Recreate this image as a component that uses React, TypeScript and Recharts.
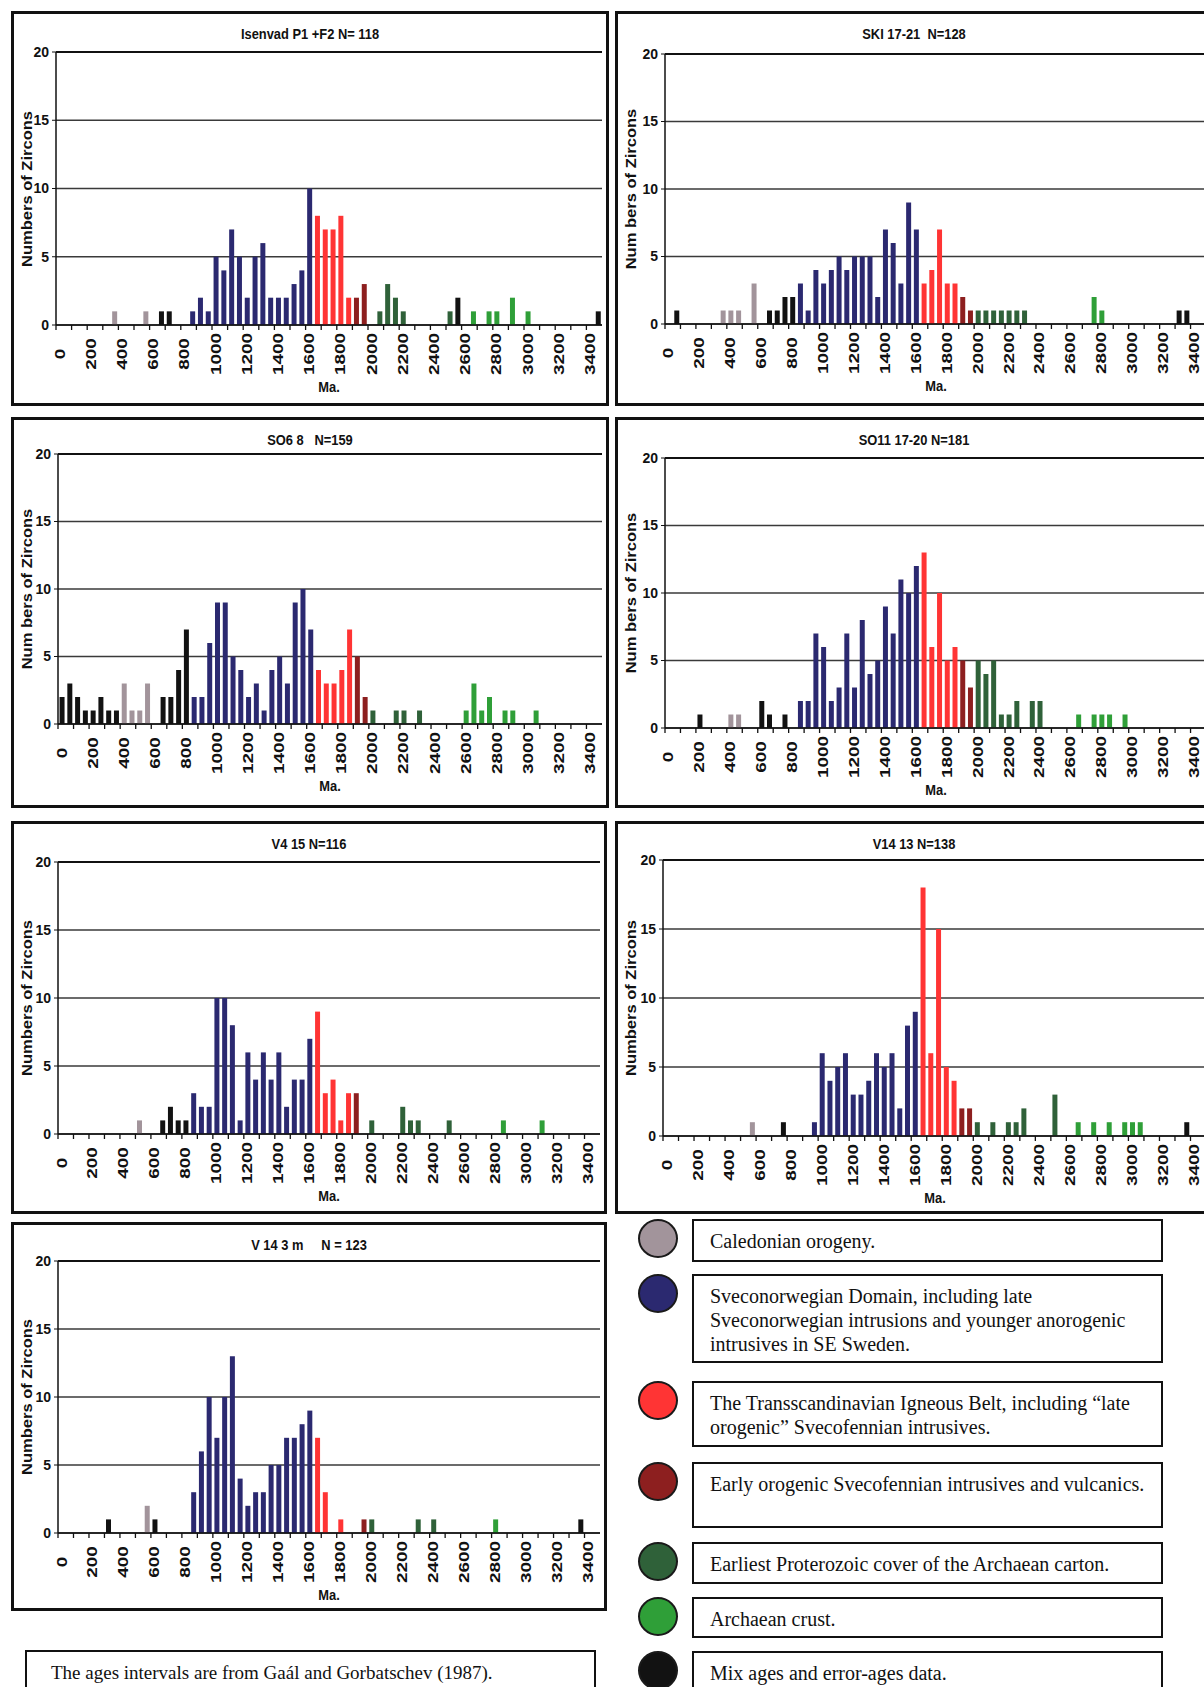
import React from "react";
import { Bar, BarChart, CartesianGrid, Cell, ReferenceLine, XAxis, YAxis } from "recharts";

// age bins: 50 Ma wide, 0 .. 3450 Ma
const BIN_STEP = 50;
const BIN_COUNT = 70;
const AGE_LABELS = ["0", "200", "400", "600", "800", "1000", "1200", "1400", "1600", "1800", "2000", "2200", "2400", "2600", "2800", "3000", "3200", "3400"];
const COUNT_TICKS = [0, 5, 10, 15, 20];

// group codes: C Caledonian, S Sveconorwegian, T TIB, E early orogenic Svecofennian,
// P earliest Proterozoic cover, A Archaean crust, M mixed / error ages
type Group = "C" | "S" | "T" | "E" | "P" | "A" | "M";
type BinCount = [number, number, Group];

const ISENVAD: BinCount[] = [
  [350, 1, "C"], [550, 1, "C"], [650, 1, "M"], [700, 1, "M"],
  [850, 1, "S"], [900, 2, "S"], [950, 1, "S"], [1000, 5, "S"], [1050, 4, "S"], [1100, 7, "S"], [1150, 5, "S"],
  [1200, 2, "S"], [1250, 5, "S"], [1300, 6, "S"], [1350, 2, "S"], [1400, 2, "S"], [1450, 2, "S"], [1500, 3, "S"],
  [1550, 4, "S"], [1600, 10, "S"],
  [1650, 8, "T"], [1700, 7, "T"], [1750, 7, "T"], [1800, 8, "T"], [1850, 2, "T"],
  [1900, 2, "E"], [1950, 3, "E"],
  [2050, 1, "P"], [2100, 3, "P"], [2150, 2, "P"], [2200, 1, "P"], [2500, 1, "P"], [2550, 2, "M"],
  [2650, 1, "A"], [2750, 1, "A"], [2800, 1, "A"], [2900, 2, "A"], [3000, 1, "A"], [3450, 1, "M"],
];

const SKI: BinCount[] = [
  [50, 1, "M"], [350, 1, "C"], [400, 1, "C"], [450, 1, "C"], [550, 3, "C"],
  [650, 1, "M"], [700, 1, "M"], [750, 2, "M"], [800, 2, "M"],
  [850, 3, "S"], [900, 1, "S"], [950, 4, "S"], [1000, 3, "S"], [1050, 4, "S"], [1100, 5, "S"], [1150, 4, "S"],
  [1200, 5, "S"], [1250, 5, "S"], [1300, 5, "S"], [1350, 2, "S"], [1400, 7, "S"], [1450, 6, "S"], [1500, 3, "S"],
  [1550, 9, "S"], [1600, 7, "S"],
  [1650, 3, "T"], [1700, 4, "T"], [1750, 7, "T"], [1800, 3, "T"], [1850, 3, "T"],
  [1900, 2, "E"], [1950, 1, "E"],
  [2000, 1, "P"], [2050, 1, "P"], [2100, 1, "P"], [2150, 1, "P"], [2200, 1, "P"], [2250, 1, "P"], [2300, 1, "P"],
  [2750, 2, "A"], [2800, 1, "A"], [3300, 1, "M"], [3350, 1, "M"],
];

const SO68: BinCount[] = [
  [0, 2, "M"], [50, 3, "M"], [100, 2, "M"], [150, 1, "M"], [200, 1, "M"], [250, 2, "M"], [300, 1, "M"], [350, 1, "M"],
  [400, 3, "C"], [450, 1, "C"], [500, 1, "C"], [550, 3, "C"],
  [650, 2, "M"], [700, 2, "M"], [750, 4, "M"], [800, 7, "M"],
  [850, 2, "S"], [900, 2, "S"], [950, 6, "S"], [1000, 9, "S"], [1050, 9, "S"], [1100, 5, "S"], [1150, 4, "S"],
  [1200, 2, "S"], [1250, 3, "S"], [1300, 1, "S"], [1350, 4, "S"], [1400, 5, "S"], [1450, 3, "S"], [1500, 9, "S"],
  [1550, 10, "S"], [1600, 7, "S"],
  [1650, 4, "T"], [1700, 3, "T"], [1750, 3, "T"], [1800, 4, "T"], [1850, 7, "T"],
  [1900, 5, "E"], [1950, 2, "E"],
  [2000, 1, "P"], [2150, 1, "P"], [2200, 1, "P"], [2300, 1, "P"],
  [2600, 1, "A"], [2650, 3, "A"], [2700, 1, "A"], [2750, 2, "A"], [2850, 1, "A"], [2900, 1, "A"], [3050, 1, "A"],
];

const SO11: BinCount[] = [
  [200, 1, "M"], [400, 1, "C"], [450, 1, "C"], [600, 2, "M"], [650, 1, "M"], [750, 1, "M"],
  [850, 2, "S"], [900, 2, "S"], [950, 7, "S"], [1000, 6, "S"], [1050, 2, "S"], [1100, 3, "S"], [1150, 7, "S"],
  [1200, 3, "S"], [1250, 8, "S"], [1300, 4, "S"], [1350, 5, "S"], [1400, 9, "S"], [1450, 7, "S"], [1500, 11, "S"],
  [1550, 10, "S"], [1600, 12, "S"],
  [1650, 13, "T"], [1700, 6, "T"], [1750, 10, "T"], [1800, 5, "T"], [1850, 6, "T"],
  [1900, 5, "E"], [1950, 3, "E"],
  [2000, 5, "P"], [2050, 4, "P"], [2100, 5, "P"], [2150, 1, "P"], [2200, 1, "P"], [2250, 2, "P"], [2350, 2, "P"], [2400, 2, "P"],
  [2650, 1, "A"], [2750, 1, "A"], [2800, 1, "A"], [2850, 1, "A"], [2950, 1, "A"],
];

const V415: BinCount[] = [
  [500, 1, "C"], [650, 1, "M"], [700, 2, "M"], [750, 1, "M"], [800, 1, "M"],
  [850, 3, "S"], [900, 2, "S"], [950, 2, "S"], [1000, 10, "S"], [1050, 10, "S"], [1100, 8, "S"], [1150, 1, "S"],
  [1200, 6, "S"], [1250, 4, "S"], [1300, 6, "S"], [1350, 4, "S"], [1400, 6, "S"], [1450, 2, "S"], [1500, 4, "S"],
  [1550, 4, "S"], [1600, 7, "S"],
  [1650, 9, "T"], [1700, 3, "T"], [1750, 4, "T"], [1800, 1, "T"], [1850, 3, "T"],
  [1900, 3, "E"],
  [2000, 1, "P"], [2200, 2, "P"], [2250, 1, "P"], [2300, 1, "P"], [2500, 1, "P"],
  [2850, 1, "A"], [3100, 1, "A"],
];

const V1413: BinCount[] = [
  [550, 1, "C"], [750, 1, "M"],
  [950, 1, "S"], [1000, 6, "S"], [1050, 4, "S"], [1100, 5, "S"], [1150, 6, "S"], [1200, 3, "S"], [1250, 3, "S"],
  [1300, 4, "S"], [1350, 6, "S"], [1400, 5, "S"], [1450, 6, "S"], [1500, 2, "S"], [1550, 8, "S"], [1600, 9, "S"],
  [1650, 18, "T"], [1700, 6, "T"], [1750, 15, "T"], [1800, 5, "T"], [1850, 4, "T"],
  [1900, 2, "E"], [1950, 2, "E"],
  [2000, 1, "P"], [2100, 1, "P"], [2200, 1, "P"], [2250, 1, "P"], [2300, 2, "P"], [2500, 3, "P"],
  [2650, 1, "A"], [2750, 1, "A"], [2850, 1, "A"], [2950, 1, "A"], [3000, 1, "A"], [3050, 1, "A"],
  [3350, 1, "M"],
];

const V143M: BinCount[] = [
  [300, 1, "M"], [550, 2, "C"], [600, 1, "M"],
  [850, 3, "S"], [900, 6, "S"], [950, 10, "S"], [1000, 7, "S"], [1050, 10, "S"], [1100, 13, "S"], [1150, 4, "S"],
  [1200, 2, "S"], [1250, 3, "S"], [1300, 3, "S"], [1350, 5, "S"], [1400, 5, "S"], [1450, 7, "S"], [1500, 7, "S"],
  [1550, 8, "S"], [1600, 9, "S"],
  [1650, 7, "T"], [1700, 3, "T"], [1800, 1, "T"],
  [1950, 1, "E"], [2000, 1, "P"], [2300, 1, "P"], [2400, 1, "P"],
  [2800, 1, "A"], [3350, 1, "M"],
];

const GROUP_COLORS: Record<Group, string> = {
  C: "#a2949b",
  S: "#2b2970",
  T: "#ff3434",
  E: "#8d1f1f",
  P: "#2f6139",
  A: "#2f9f38",
  M: "#121212",
};

const LEGEND: { group: Group; lines: string[] }[] = [
  { group: "C", lines: ["Caledonian orogeny."] },
  {
    group: "S",
    lines: [
      "Sveconorwegian Domain, including late",
      "Sveconorwegian intrusions and younger anorogenic",
      "intrusives in SE Sweden.",
    ],
  },
  {
    group: "T",
    lines: ["The Transscandinavian Igneous Belt, including \u201clate", "orogenic\u201d Svecofennian intrusives."],
  },
  { group: "E", lines: ["Early orogenic Svecofennian intrusives and vulcanics."] },
  { group: "P", lines: ["Earliest Proterozoic cover of the Archaean carton."] },
  { group: "A", lines: ["Archaean crust."] },
  { group: "M", lines: ["Mix ages and error-ages data."] },
];

// box: left, top, width, height; plot: left, top (20 line), bottom (0 line)
const PANELS = [
  { title: "Isenvad P1 +F2 N= 118", yLabel: "Numbers of Zircons", bars: ISENVAD, box: [11, 11, 598, 395], plot: [56, 52, 325] },
  { title: "SKI 17-21  N=128", yLabel: "Num bers of Zircons", bars: SKI, box: [615, 11, 598, 395], plot: [665, 54, 324] },
  { title: "SO6 8   N=159", yLabel: "Num bers of Zircons", bars: SO68, box: [11, 417, 598, 391], plot: [58, 454, 724] },
  { title: "SO11 17-20 N=181", yLabel: "Num bers of Zircons", bars: SO11, box: [615, 417, 598, 391], plot: [665, 458, 728] },
  { title: "V4 15 N=116", yLabel: "Numbers of Zircons", bars: V415, box: [11, 821, 596, 393], plot: [58, 862, 1134] },
  { title: "V14 13 N=138", yLabel: "Numbers of Zircons", bars: V1413, box: [615, 821, 598, 393], plot: [663, 860, 1136] },
  { title: "V 14 3 m     N = 123", yLabel: "Numbers of Zircons", bars: V143M, box: [11, 1222, 596, 389], plot: [58, 1261, 1533] },
];

const LEGEND_BOXES = [
  [1219, 43], [1274, 89], [1381, 66], [1462, 66], [1542, 42], [1597, 41], [1651, 52],
];

const SANS = "Arial, 'Liberation Sans', sans-serif";
const SERIF = "'Times New Roman', 'Liberation Serif', serif";

function buildRows(bars: BinCount[]) {
  const rows: { age: number; count: number; group: Group | null }[] = [];
  for (let i = 0; i < BIN_COUNT; i++) rows.push({ age: i * BIN_STEP, count: 0, group: null });
  bars.forEach(([age, count, group]) => {
    const row = rows[age / BIN_STEP];
    row.count = count;
    row.group = group;
  });
  return rows;
}

function Histogram({ panel }: { panel: (typeof PANELS)[number] }) {
  const [bx, by, bw, bh] = panel.box;
  const [pl, pt, pb] = panel.plot;
  const rightPad = 7;
  const band = (bx + bw - rightPad - pl) / BIN_COUNT;
  const base = pb - by;
  const xAxisH = 60;
  const rows = buildRows(panel.bars);
  const plotMid = (pl + bx + bw - rightPad) / 2;

  const renderTick = (props: any) => {
    const { x, payload } = props;
    const label = String(payload.value);
    const showLabel = AGE_LABELS.includes(label);
    const mark = payload.value % 100 === 0;
    return (
      <g>
        {mark && (
          <line x1={x - band / 2} x2={x - band / 2} y1={base} y2={base + 5} stroke="#111" strokeWidth={1.3} />
        )}
        {showLabel && (
          <text
            transform={`translate(${x},${base + 29}) rotate(-90) scale(1.35,1)`}
            textAnchor="middle"
            dominantBaseline="central"
            fontSize={14}
            fontWeight="bold"
            fontFamily={SANS}
            fill="#111"
          >
            {label}
          </text>
        )}
      </g>
    );
  };

  return (
    <>
      <div
        style={{
          position: "absolute",
          left: bx,
          top: by,
          width: bw,
          height: bh,
          border: "3px solid #111",
          boxSizing: "border-box",
          background: "#fff",
        }}
      />
      <div style={{ position: "absolute", left: bx, top: by }}>
        <BarChart
          width={bw}
          height={bh}
          data={rows}
          margin={{ top: pt - by, right: rightPad, left: 0, bottom: bh - base - xAxisH }}
          barCategoryGap="20%"
        >
          <CartesianGrid vertical={false} stroke="#3a3a3a" strokeWidth={1.3} />
          <XAxis
            dataKey="age"
            interval={0}
            height={xAxisH}
            tickLine={false}
            axisLine={{ stroke: "#111", strokeWidth: 1.5 }}
            tick={renderTick}
          />
          <YAxis
            domain={[0, 20]}
            ticks={COUNT_TICKS}
            interval={0}
            width={pl - bx}
            tickSize={4}
            tickMargin={3}
            axisLine={{ stroke: "#111", strokeWidth: 1.5 }}
            tickLine={{ stroke: "#111" }}
            tick={{ fontSize: 14, fontWeight: "bold", fill: "#111", fontFamily: SANS }}
          />
          <ReferenceLine y={20} stroke="#111" strokeWidth={2} />
          <Bar dataKey="count" isAnimationActive={false}>
            {rows.map((r, i) => (
              <Cell key={i} fill={r.group ? GROUP_COLORS[r.group] : "#fff"} />
            ))}
          </Bar>
        </BarChart>
      </div>
      <div
        style={{
          position: "absolute",
          left: bx + bw / 2,
          top: by + 23,
          transform: "translate(-50%, -50%) scaleX(0.92)",
          font: `bold 14px ${SANS}`,
          color: "#111",
          whiteSpace: "pre",
        }}
      >
        {panel.title}
      </div>
      <div
        style={{
          position: "absolute",
          left: bx + 16,
          top: (pt + pb) / 2,
          transform: "translate(-50%, -50%) rotate(-90deg) scaleX(1.18)",
          font: `bold 14px ${SANS}`,
          color: "#111",
          whiteSpace: "pre",
        }}
      >
        {panel.yLabel}
      </div>
      <div
        style={{
          position: "absolute",
          left: plotMid,
          top: pb + 62,
          transform: "translate(-50%, -50%) scaleX(0.92)",
          font: `bold 14px ${SANS}`,
          color: "#111",
        }}
      >
        Ma.
      </div>
    </>
  );
}

function Legend() {
  return (
    <>
      {LEGEND.map((item, i) => {
        const [top, height] = LEGEND_BOXES[i];
        return (
          <React.Fragment key={item.group}>
            <div
              style={{
                position: "absolute",
                left: 658 - 20,
                top: top + 20 - 20,
                width: 40,
                height: 39,
                borderRadius: "50%",
                background: GROUP_COLORS[item.group],
                border: "2px solid #1a1a1a",
                boxSizing: "border-box",
              }}
            />
            <div
              style={{
                position: "absolute",
                left: 692,
                top,
                width: 471,
                height,
                border: "2px solid #111",
                boxSizing: "border-box",
                padding: "8px 0 0 16px",
                font: `20px ${SERIF}`,
                lineHeight: "24px",
                color: "#111",
                whiteSpace: "pre",
                background: "#fff",
              }}
            >
              {item.lines.join("\n")}
            </div>
          </React.Fragment>
        );
      })}
    </>
  );
}

export default function App() {
  return (
    <div
      style={{
        position: "absolute",
        left: 0,
        top: 0,
        width: 1204,
        height: 1687,
        overflow: "hidden",
        background: "#fff",
      }}
    >
      {PANELS.map((p) => (
        <Histogram key={p.title} panel={p} />
      ))}
      <Legend />
      <div
        style={{
          position: "absolute",
          left: 25,
          top: 1650,
          width: 571,
          height: 52,
          border: "2px solid #111",
          boxSizing: "border-box",
          padding: "9px 0 0 24px",
          font: `19px ${SERIF}`,
          lineHeight: "24px",
          color: "#111",
        }}
      >
        The ages intervals are from Gaál and Gorbatschev (1987).
      </div>
    </div>
  );
}
